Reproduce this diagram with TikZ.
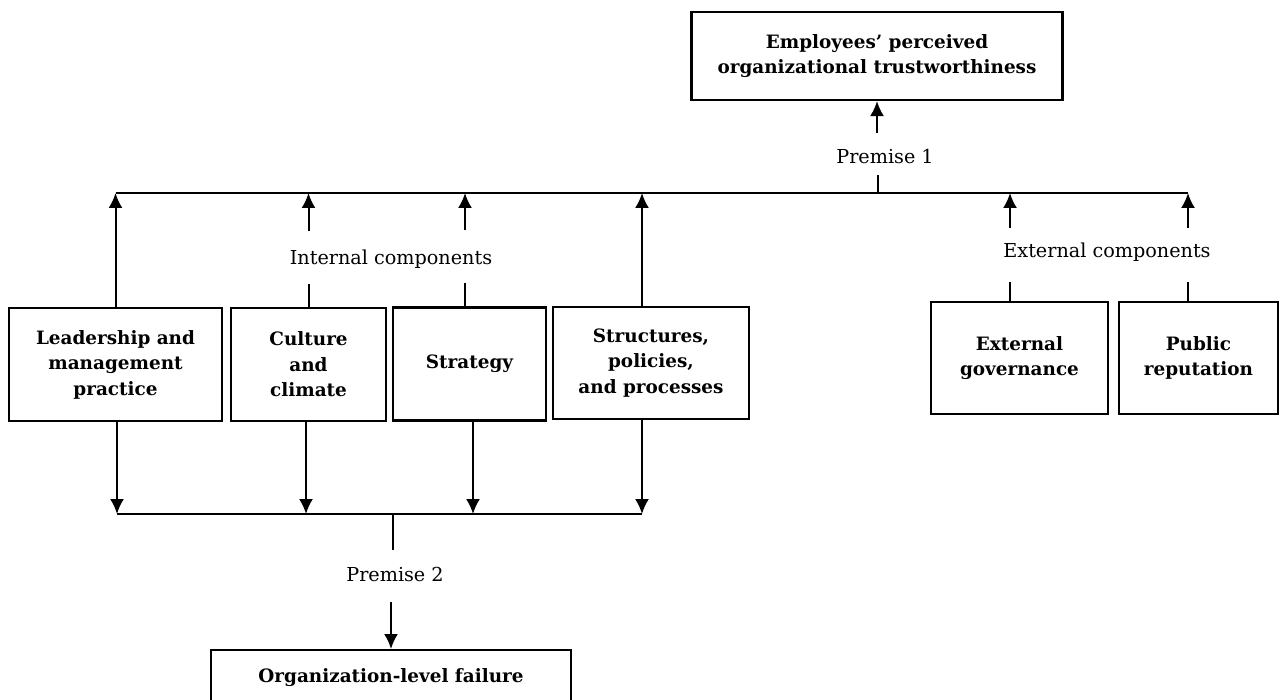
\documentclass[tikz,border=0pt]{standalone}
\usepackage{fontspec}
\setmainfont{DejaVu Serif}
\usetikzlibrary{arrows.meta}

\tikzset{
  box/.style={draw, line width=2.2pt, align=center, inner sep=0pt,
    font=\bfseries\fontsize{18.4}{25.5}\selectfont},
  lab/.style={inner sep=0pt, font=\fontsize{19.2}{22}\selectfont},
  arr/.style={-{Latex[length=15pt,width=14pt]}}
}

\begin{document}
\begin{tikzpicture}[x=1pt,y=-1pt,line width=2pt]
        \useasboundingbox (0,0) rectangle (1280,700);

        \node[box, minimum width=371pt, minimum height=88pt] (trust) at (877,56) {Employees’ perceived\\organizational trustworthiness};

        \node[box, minimum width=213pt, minimum height=113pt] (lead) at (115.5,364.5) {Leadership and\\management\\practice};
        \node[box, minimum width=155pt, minimum height=113pt] (cult) at (308.5,364.5) {Culture\\and\\climate};
        \node[box, minimum width=153pt, minimum height=113pt] (strat) at (469.5,364) {Strategy};
        \node[box, minimum width=196pt, minimum height=112pt] (struct) at (651,363) {Structures,\\policies,\\and processes};
        \node[box, minimum width=177pt, minimum height=112pt] (extgov) at (1019.5,358) {External\\governance};
        \node[box, minimum width=159pt, minimum height=112pt] (pubrep) at (1198.5,358) {Public\\reputation};

        \node[box, anchor=north, minimum width=360pt, inner ysep=18pt, text depth=40pt] (fail) at (391,649) {Organization-level failure};

        \node[lab] (prem1) at (885,157) {Premise 1};
        \node[lab] (intlab) at (391,259) {Internal components};
        \node[lab] (extlab) at (1107,252) {External components};
        \node[lab] (prem2) at (395,575) {Premise 2};

        \coordinate (jtop) at (878,193);
        \coordinate (jbot) at (393,514);

        \coordinate (su) at ([xshift=-4.5pt]strat.north);
        \coordinate (tu) at ([xshift=-9pt]struct.north);
        \coordinate (eg) at ([xshift=-9.5pt]extgov.north);
        \coordinate (pr) at ([xshift=-10.5pt]pubrep.north);

        \coordinate (ld) at ([xshift=1.5pt]lead.south);
        \coordinate (cd) at ([xshift=-2.5pt]cult.south);
        \coordinate (sd) at ([xshift=3.5pt]strat.south);
        \coordinate (td) at ([xshift=-9pt]struct.south);

        % premise 1
        \draw[arr] ([yshift=-32pt]trust.south) -- (trust.south);
        \draw (jtop) -- ++(0,-18);
        \draw (lead.north |- jtop) -- (pr |- jtop);

        % internal components
        \draw[arr] (lead.north) -- (lead.north |- jtop);
        \draw (cult.north) -- ++(0,-23);
        \draw[arr] ([yshift=76pt]cult.north) -- (cult.north |- jtop);
        \draw (su) -- ++(0,-23);
        \draw[arr] ([yshift=76pt]su) -- (su |- jtop);
        \draw[arr] (tu) -- (tu |- jtop);

        % external components
        \draw (eg) -- ++(0,-19);
        \draw[arr] ([yshift=73pt]eg) -- (eg |- jtop);
        \draw (pr) -- ++(0,-19);
        \draw[arr] ([yshift=73pt]pr) -- (pr |- jtop);

        % premise 2
        \draw (ld |- jbot) -- (td |- jbot);
        \draw[arr] (ld) -- (ld |- jbot);
        \draw[arr] (cd) -- (cd |- jbot);
        \draw[arr] (sd) -- (sd |- jbot);
        \draw[arr] (td) -- (td |- jbot);
        \draw (jbot) -- ++(0,36);
        \draw[arr] ([yshift=47pt]fail.north) -- (fail.north);
      \end{tikzpicture}
\end{document}
